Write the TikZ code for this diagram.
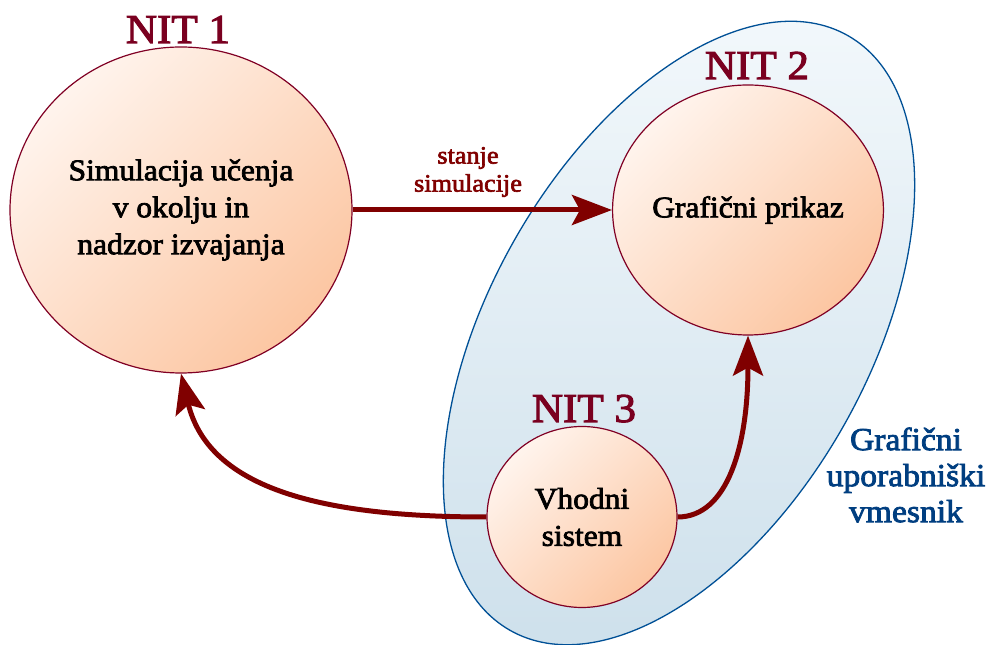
\documentclass[tikz,border=0pt]{standalone}
\usepackage{fontspec}
\setmainfont[FakeStretch=1.05,FakeBold=2.5]{Liberation Serif}
\usetikzlibrary{arrows.meta,shapes.geometric}

\definecolor{flowred}{RGB}{128,0,0}
\definecolor{titlered}{RGB}{122,0,32}
\definecolor{rimred}{RGB}{128,0,36}
\definecolor{peachlight}{RGB}{255,244,237}
\definecolor{peachdark}{RGB}{252,198,162}
\definecolor{guiblue}{RGB}{0,80,150}
\definecolor{guitext}{RGB}{0,62,128}
\definecolor{skylight}{RGB}{244,249,252}
\definecolor{skydark}{RGB}{207,225,236}

\tikzset{
  thread/.style={ellipse, draw=rimred, line width=1.2pt, inner sep=0pt,
    top color=peachlight, bottom color=peachdark, shading angle=45,
    align=center, font=\fontsize{30}{37}\selectfont},
  threadtitle/.style={anchor=base, text=titlered,
    font=\fontsize{41}{44}\selectfont},
  guizone/.style={ellipse, draw=guiblue, line width=1.3pt, inner sep=0pt,
    top color=skylight, bottom color=skydark},
  flow/.style={draw=flowred, line width=5pt,
    -{Stealth[length=40pt,width=30pt,inset=8pt]}},
  flowlabel/.style={text=flowred, align=center,
    font=\fontsize{25}{28}\selectfont},
  zonelabel/.style={text=guitext, align=center,
    font=\fontsize{32}{36}\selectfont}
}

\begin{document}
\begin{tikzpicture}[x=1pt,y=1pt]
\useasboundingbox (0,0) rectangle (991,645);

% graphical user interface region
\node[guizone, minimum width=378pt, minimum height=684pt, rotate=-29.6]
  (gui) at (679,312) {};

% the three threads
\node[thread, minimum width=342pt, minimum height=326pt] (sim) at (181,435)
  {Simulacija učenja\\v okolju in\\nadzor izvajanja};
\node[thread, minimum width=264pt, minimum height=250pt] (view) at (748,435)
  {Grafični prikaz};
\node[thread, minimum width=190pt, minimum height=181pt] (input) at (582,128)
  {Vhodni\\sistem};

% thread titles
\node[threadtitle] (t1) at (178,602) {NIT 1};
\node[threadtitle] (t2) at (757,566) {NIT 2};
\node[threadtitle] (t3) at (584,223) {NIT 3};

% data flow between threads
\draw[flow] (sim.east) -- (view.west);
\draw[flow] (input.west) .. controls +(-160,0) and +(28,-117) .. (sim.south);
\draw[flow] (input.east) .. controls +(50,0) and +(0,-110) .. (view.south);

% labels
\node[flowlabel] (state) at (468,473) {stanje\\simulacije};
\node[zonelabel] (guilabel) at (906,170) {Grafični\\uporabniški\\vmesnik};
\end{tikzpicture}
\end{document}
